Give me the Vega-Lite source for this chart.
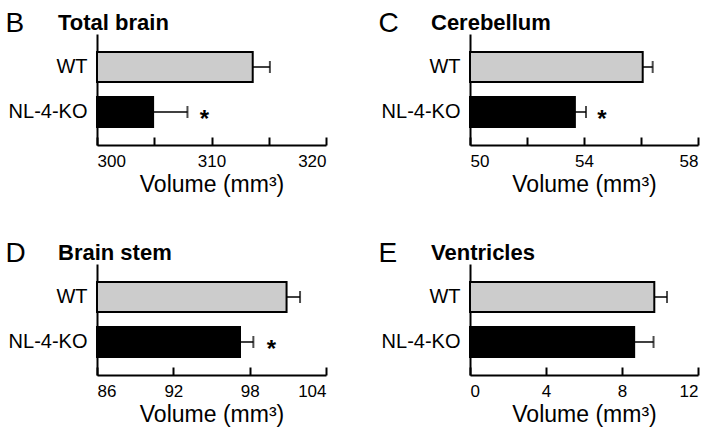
{
  "$schema": "https://vega.github.io/schema/vega-lite/v6.json",
  "background": "white",
  "padding": {"left": 5, "top": 9, "right": 5, "bottom": 5},
  "config": {
    "font": "Liberation Sans",
    "view": {"stroke": null},
    "axis": {"domainColor": "black", "domainWidth": 2, "tickColor": "black", "tickWidth": 2, "labelColor": "black", "titleColor": "black", "grid": false},
    "title": {"color": "black"}
  },
  "datasets": {
    "vol": [
      {"region": "Total brain", "group": "WT", "mean": 313.6, "upper": 315.1, "sig": ""},
      {"region": "Total brain", "group": "NL-4-KO", "mean": 304.9, "upper": 307.9, "sig": "*"},
      {"region": "Cerebellum", "group": "WT", "mean": 56.06, "upper": 56.41, "sig": ""},
      {"region": "Cerebellum", "group": "NL-4-KO", "mean": 53.68, "upper": 54.07, "sig": "*"},
      {"region": "Brain stem", "group": "WT", "mean": 100.9, "upper": 101.96, "sig": ""},
      {"region": "Brain stem", "group": "NL-4-KO", "mean": 97.24, "upper": 98.29, "sig": "*"},
      {"region": "Ventricles", "group": "WT", "mean": 9.70, "upper": 10.37, "sig": ""},
      {"region": "Ventricles", "group": "NL-4-KO", "mean": 8.64, "upper": 9.66, "sig": ""}
    ]
  },
  "data": {"name": "vol"},
  "columns": 2,
  "bounds": "flush",
  "spacing": {"column": 144, "row": 119},
  "concat": [
    {
      "width": 229, "height": 111,
      "title": {"text": "Total brain", "anchor": "start", "frame": "group", "fontSize": 22, "fontWeight": "bold", "dx": -39, "dy": 30},
      "transform": [{"filter": "datum.region === 'Total brain'"}],
      "encoding": {
        "y": {"field": "group", "type": "nominal", "sort": ["WT", "NL-4-KO"], "scale": {"paddingInner": 0.333, "paddingOuter": 0.4},
          "axis": {"title": "B", "titleAngle": 0, "titleX": -92, "titleY": -3, "titleAlign": "left", "titleBaseline": "alphabetic", "titleFontSize": 28, "titleFontWeight": "normal", "ticks": false, "labelFontSize": 20, "labelPadding": 10}}
      },
      "layer": [
        {"mark": {"type": "bar", "stroke": "black", "strokeWidth": 2},
          "encoding": {
            "x": {"field": "mean", "type": "quantitative", "scale": {"domain": [300, 320], "zero": false, "nice": false},
              "axis": {"title": "Volume (mm³)", "values": [300, 305, 310, 315, 320], "labelExpr": "datum.value % 10 === 0 ? datum.label : ''", "tickSize": -8, "labelFontSize": 17, "labelPadding": 16, "titleFontSize": 23, "titleFontWeight": "normal", "titlePadding": 4}},
            "x2": {"datum": 300},
            "color": {"field": "group", "type": "nominal", "scale": {"domain": ["WT", "NL-4-KO"], "range": ["#cccccc", "black"]}, "legend": null}}},
        {"mark": {"type": "rule", "color": "black", "strokeWidth": 1.5}, "encoding": {"x": {"field": "mean", "type": "quantitative"}, "x2": {"field": "upper"}}},
        {"mark": {"type": "tick", "orient": "vertical", "size": 12, "thickness": 2, "color": "black"}, "encoding": {"x": {"field": "upper", "type": "quantitative"}}},
        {"mark": {"type": "text", "dx": 17, "dy": 8, "fontSize": 24, "fontWeight": "bold", "color": "black"}, "encoding": {"x": {"field": "upper", "type": "quantitative"}, "text": {"field": "sig"}}}
      ]
    },
    {
      "width": 228, "height": 111,
      "title": {"text": "Cerebellum", "anchor": "start", "frame": "group", "fontSize": 22, "fontWeight": "bold", "dx": -39, "dy": 30},
      "transform": [{"filter": "datum.region === 'Cerebellum'"}],
      "encoding": {
        "y": {"field": "group", "type": "nominal", "sort": ["WT", "NL-4-KO"], "scale": {"paddingInner": 0.333, "paddingOuter": 0.4},
          "axis": {"title": "C", "titleAngle": 0, "titleX": -92, "titleY": -3, "titleAlign": "left", "titleBaseline": "alphabetic", "titleFontSize": 28, "titleFontWeight": "normal", "ticks": false, "labelFontSize": 20, "labelPadding": 10}}
      },
      "layer": [
        {"mark": {"type": "bar", "stroke": "black", "strokeWidth": 2},
          "encoding": {
            "x": {"field": "mean", "type": "quantitative", "scale": {"domain": [50, 58], "zero": false, "nice": false},
              "axis": {"title": "Volume (mm³)", "values": [50, 52, 54, 56, 58], "labelExpr": "(datum.value - 50) % 4 === 0 ? datum.label : ''", "tickSize": -8, "labelFontSize": 17, "labelPadding": 16, "titleFontSize": 23, "titleFontWeight": "normal", "titlePadding": 4}},
            "x2": {"datum": 50},
            "color": {"field": "group", "type": "nominal", "scale": {"domain": ["WT", "NL-4-KO"], "range": ["#cccccc", "black"]}, "legend": null}}},
        {"mark": {"type": "rule", "color": "black", "strokeWidth": 1.5}, "encoding": {"x": {"field": "mean", "type": "quantitative"}, "x2": {"field": "upper"}}},
        {"mark": {"type": "tick", "orient": "vertical", "size": 12, "thickness": 2, "color": "black"}, "encoding": {"x": {"field": "upper", "type": "quantitative"}}},
        {"mark": {"type": "text", "dx": 16, "dy": 8, "fontSize": 24, "fontWeight": "bold", "color": "black"}, "encoding": {"x": {"field": "upper", "type": "quantitative"}, "text": {"field": "sig"}}}
      ]
    },
    {
      "width": 229, "height": 111,
      "title": {"text": "Brain stem", "anchor": "start", "frame": "group", "fontSize": 22, "fontWeight": "bold", "dx": -39, "dy": 30},
      "transform": [{"filter": "datum.region === 'Brain stem'"}],
      "encoding": {
        "y": {"field": "group", "type": "nominal", "sort": ["WT", "NL-4-KO"], "scale": {"paddingInner": 0.333, "paddingOuter": 0.4},
          "axis": {"title": "D", "titleAngle": 0, "titleX": -92, "titleY": -3, "titleAlign": "left", "titleBaseline": "alphabetic", "titleFontSize": 28, "titleFontWeight": "normal", "ticks": false, "labelFontSize": 20, "labelPadding": 10}}
      },
      "layer": [
        {"mark": {"type": "bar", "stroke": "black", "strokeWidth": 2},
          "encoding": {
            "x": {"field": "mean", "type": "quantitative", "scale": {"domain": [86, 104], "zero": false, "nice": false},
              "axis": {"title": "Volume (mm³)", "values": [86, 92, 98, 104], "tickSize": -8, "labelFontSize": 17, "labelPadding": 16, "titleFontSize": 23, "titleFontWeight": "normal", "titlePadding": 4}},
            "x2": {"datum": 86},
            "color": {"field": "group", "type": "nominal", "scale": {"domain": ["WT", "NL-4-KO"], "range": ["#cccccc", "black"]}, "legend": null}}},
        {"mark": {"type": "rule", "color": "black", "strokeWidth": 1.5}, "encoding": {"x": {"field": "mean", "type": "quantitative"}, "x2": {"field": "upper"}}},
        {"mark": {"type": "tick", "orient": "vertical", "size": 12, "thickness": 2, "color": "black"}, "encoding": {"x": {"field": "upper", "type": "quantitative"}}},
        {"mark": {"type": "text", "dx": 18, "dy": 8, "fontSize": 24, "fontWeight": "bold", "color": "black"}, "encoding": {"x": {"field": "upper", "type": "quantitative"}, "text": {"field": "sig"}}}
      ]
    },
    {
      "width": 228, "height": 111,
      "title": {"text": "Ventricles", "anchor": "start", "frame": "group", "fontSize": 22, "fontWeight": "bold", "dx": -39, "dy": 30},
      "transform": [{"filter": "datum.region === 'Ventricles'"}],
      "encoding": {
        "y": {"field": "group", "type": "nominal", "sort": ["WT", "NL-4-KO"], "scale": {"paddingInner": 0.333, "paddingOuter": 0.4},
          "axis": {"title": "E", "titleAngle": 0, "titleX": -92, "titleY": -3, "titleAlign": "left", "titleBaseline": "alphabetic", "titleFontSize": 28, "titleFontWeight": "normal", "ticks": false, "labelFontSize": 20, "labelPadding": 10}}
      },
      "layer": [
        {"mark": {"type": "bar", "stroke": "black", "strokeWidth": 2},
          "encoding": {
            "x": {"field": "mean", "type": "quantitative", "scale": {"domain": [0, 12], "zero": false, "nice": false},
              "axis": {"title": "Volume (mm³)", "values": [0, 4, 8, 12], "tickSize": -8, "labelFontSize": 17, "labelPadding": 16, "titleFontSize": 23, "titleFontWeight": "normal", "titlePadding": 4}},
            "x2": {"datum": 0},
            "color": {"field": "group", "type": "nominal", "scale": {"domain": ["WT", "NL-4-KO"], "range": ["#cccccc", "black"]}, "legend": null}}},
        {"mark": {"type": "rule", "color": "black", "strokeWidth": 1.5}, "encoding": {"x": {"field": "mean", "type": "quantitative"}, "x2": {"field": "upper"}}},
        {"mark": {"type": "tick", "orient": "vertical", "size": 12, "thickness": 2, "color": "black"}, "encoding": {"x": {"field": "upper", "type": "quantitative"}}},
        {"mark": {"type": "text", "dx": 18, "dy": 8, "fontSize": 24, "fontWeight": "bold", "color": "black"}, "encoding": {"x": {"field": "upper", "type": "quantitative"}, "text": {"field": "sig"}}}
      ]
    }
  ]
}
